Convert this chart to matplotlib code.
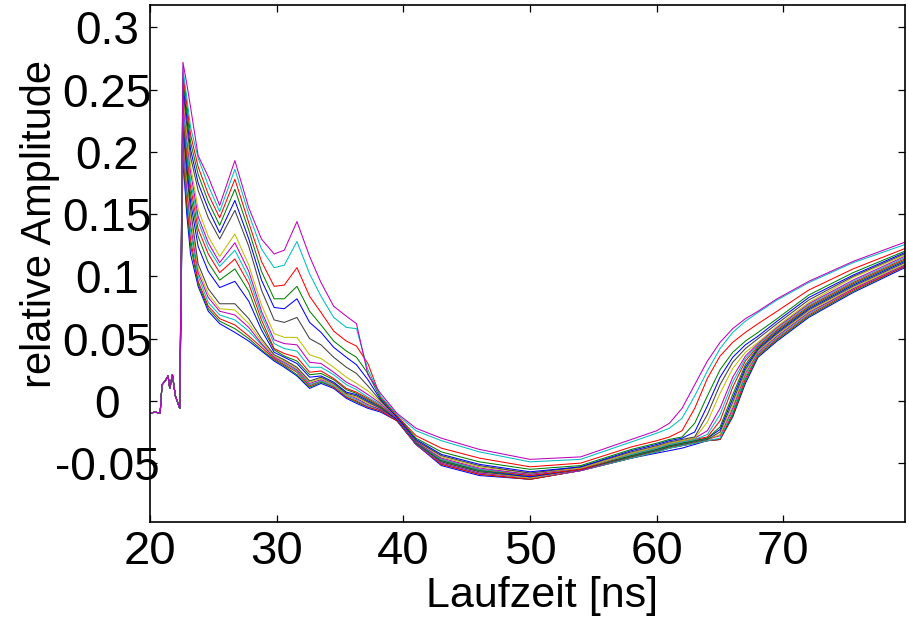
import matplotlib
matplotlib.use("Agg")
import matplotlib.pyplot as plt

# ---- data ----
# shared start segment (identical for all traces)
x_start = [20.0, 20.4, 20.8, 20.95, 21.2, 21.43, 21.56, 21.77, 22.0, 22.35]
y_start = [-0.010, -0.009, -0.010, 0.013, 0.016, 0.020, 0.010, 0.021, 0.004, -0.006]

x_early = [22.6, 22.9, 23.2, 23.8, 24.6, 25.5, 26.7, 27.8, 28.8, 29.8,
           30.6, 31.6, 32.6, 33.5, 34.5, 35.5, 36.3, 37.2, 38.2]
x_mid = [39.5, 41.0, 43.0, 46.0, 50.0, 54.0]
x_late = [58.0, 60.0, 61.0, 62.0, 63.0, 64.0, 65.0, 66.0, 67.0, 68.0,
          69.5, 72.0, 75.5, 80.0]

# rows: traces from top (last plotted) to bottom (first plotted)
early = [
    [0.272, 0.255, 0.236, 0.197, 0.180, 0.157, 0.193, 0.155, 0.130, 0.118, 0.121, 0.144, 0.116, 0.095, 0.076, 0.068, 0.062, 0.021, 0.006],
    [0.267, 0.244, 0.220, 0.195, 0.173, 0.152, 0.186, 0.150, 0.122, 0.107, 0.109, 0.128, 0.102, 0.084, 0.067, 0.059, 0.058, 0.025, 0.004],
    [0.263, 0.239, 0.214, 0.188, 0.166, 0.147, 0.178, 0.143, 0.112, 0.092, 0.093, 0.107, 0.084, 0.071, 0.056, 0.048, 0.044, 0.030, 0.003],
    [0.259, 0.233, 0.208, 0.182, 0.160, 0.141, 0.170, 0.137, 0.104, 0.082, 0.082, 0.092, 0.072, 0.061, 0.048, 0.040, 0.035, 0.022, 0.002],
    [0.255, 0.228, 0.202, 0.175, 0.154, 0.135, 0.161, 0.130, 0.097, 0.075, 0.074, 0.082, 0.063, 0.055, 0.043, 0.035, 0.029, 0.017, 0.001],
    [0.250, 0.222, 0.196, 0.169, 0.147, 0.130, 0.153, 0.124, 0.089, 0.065, 0.063, 0.067, 0.050, 0.045, 0.035, 0.027, 0.022, 0.012, 0.000],
    [0.246, 0.216, 0.189, 0.154, 0.132, 0.116, 0.134, 0.109, 0.077, 0.054, 0.051, 0.051, 0.037, 0.034, 0.027, 0.019, 0.014, 0.008, -0.001],
    [0.242, 0.211, 0.184, 0.148, 0.127, 0.111, 0.127, 0.104, 0.072, 0.049, 0.046, 0.045, 0.031, 0.030, 0.023, 0.015, 0.011, 0.005, -0.002],
    [0.237, 0.205, 0.177, 0.144, 0.123, 0.108, 0.121, 0.099, 0.069, 0.046, 0.042, 0.040, 0.027, 0.027, 0.021, 0.013, 0.009, 0.003, -0.003],
    [0.234, 0.200, 0.172, 0.138, 0.118, 0.103, 0.114, 0.094, 0.065, 0.042, 0.038, 0.035, 0.023, 0.024, 0.018, 0.010, 0.007, 0.002, -0.004],
    [0.229, 0.194, 0.166, 0.132, 0.111, 0.097, 0.106, 0.088, 0.061, 0.041, 0.036, 0.032, 0.021, 0.022, 0.017, 0.009, 0.006, 0.001, -0.005],
    [0.225, 0.189, 0.160, 0.124, 0.104, 0.091, 0.096, 0.080, 0.057, 0.039, 0.035, 0.030, 0.019, 0.020, 0.015, 0.007, 0.005, 0.000, -0.005],
    [0.220, 0.183, 0.154, 0.110, 0.090, 0.078, 0.078, 0.066, 0.050, 0.037, 0.033, 0.027, 0.016, 0.019, 0.014, 0.006, 0.004, -0.001, -0.006],
    [0.217, 0.178, 0.148, 0.106, 0.086, 0.074, 0.073, 0.062, 0.048, 0.036, 0.032, 0.026, 0.015, 0.018, 0.013, 0.005, 0.003, -0.002, -0.006],
    [0.212, 0.172, 0.142, 0.103, 0.083, 0.072, 0.069, 0.059, 0.046, 0.035, 0.031, 0.025, 0.014, 0.017, 0.013, 0.005, 0.002, -0.003, -0.007],
    [0.208, 0.167, 0.136, 0.100, 0.079, 0.069, 0.065, 0.056, 0.045, 0.035, 0.030, 0.024, 0.013, 0.016, 0.012, 0.004, 0.001, -0.004, -0.007],
    [0.204, 0.161, 0.130, 0.096, 0.076, 0.066, 0.061, 0.052, 0.043, 0.034, 0.029, 0.023, 0.012, 0.016, 0.011, 0.003, 0.000, -0.005, -0.008],
    [0.200, 0.156, 0.125, 0.094, 0.074, 0.064, 0.058, 0.050, 0.041, 0.033, 0.028, 0.021, 0.011, 0.015, 0.011, 0.003, -0.001, -0.005, -0.008],
    [0.195, 0.150, 0.118, 0.092, 0.072, 0.062, 0.055, 0.048, 0.040, 0.032, 0.027, 0.020, 0.010, 0.014, 0.010, 0.002, -0.002, -0.006, -0.009],
]

mid = [
    [-0.010, -0.022, -0.030, -0.039, -0.047, -0.045],
    [-0.011, -0.024, -0.032, -0.041, -0.049, -0.047],
    [-0.012, -0.028, -0.038, -0.046, -0.053, -0.050],
    [-0.012, -0.030, -0.041, -0.049, -0.055, -0.052],
    [-0.013, -0.031, -0.043, -0.051, -0.057, -0.053],
    [-0.013, -0.032, -0.044, -0.052, -0.058, -0.053],
    [-0.013, -0.032, -0.045, -0.053, -0.058, -0.054],
    [-0.014, -0.033, -0.046, -0.054, -0.059, -0.054],
    [-0.014, -0.033, -0.047, -0.055, -0.059, -0.054],
    [-0.014, -0.033, -0.047, -0.055, -0.060, -0.055],
    [-0.014, -0.034, -0.048, -0.056, -0.060, -0.055],
    [-0.015, -0.034, -0.048, -0.056, -0.061, -0.055],
    [-0.015, -0.034, -0.049, -0.057, -0.061, -0.055],
    [-0.015, -0.034, -0.049, -0.057, -0.062, -0.055],
    [-0.015, -0.035, -0.050, -0.058, -0.062, -0.056],
    [-0.015, -0.035, -0.050, -0.058, -0.062, -0.056],
    [-0.016, -0.035, -0.051, -0.059, -0.063, -0.056],
    [-0.016, -0.035, -0.051, -0.059, -0.063, -0.056],
    [-0.016, -0.035, -0.052, -0.060, -0.063, -0.056],
]

late = [
    [-0.031, -0.024, -0.018, -0.006, 0.013, 0.032, 0.047, 0.058, 0.066, 0.072, 0.082, 0.096, 0.112, 0.129],
    [-0.033, -0.026, -0.022, -0.014, 0.004, 0.024, 0.042, 0.055, 0.064, 0.071, 0.081, 0.095, 0.111, 0.127],
    [-0.037, -0.032, -0.029, -0.024, -0.006, 0.018, 0.036, 0.047, 0.055, 0.062, 0.072, 0.089, 0.106, 0.124],
    [-0.039, -0.034, -0.031, -0.029, -0.018, 0.004, 0.025, 0.039, 0.048, 0.055, 0.066, 0.085, 0.103, 0.122],
    [-0.040, -0.035, -0.032, -0.030, -0.025, -0.004, 0.019, 0.035, 0.045, 0.052, 0.064, 0.083, 0.101, 0.121],
    [-0.041, -0.036, -0.033, -0.031, -0.029, -0.011, 0.013, 0.031, 0.042, 0.050, 0.062, 0.081, 0.100, 0.120],
    [-0.042, -0.037, -0.034, -0.032, -0.030, -0.017, 0.006, 0.026, 0.039, 0.047, 0.060, 0.079, 0.099, 0.119],
    [-0.042, -0.037, -0.034, -0.032, -0.030, -0.024, -0.006, 0.019, 0.036, 0.046, 0.059, 0.078, 0.097, 0.118],
    [-0.043, -0.038, -0.035, -0.033, -0.031, -0.027, -0.011, 0.015, 0.034, 0.045, 0.058, 0.077, 0.096, 0.117],
    [-0.043, -0.038, -0.035, -0.033, -0.031, -0.029, -0.016, 0.011, 0.032, 0.044, 0.057, 0.076, 0.095, 0.116],
    [-0.044, -0.039, -0.036, -0.034, -0.032, -0.030, -0.021, 0.005, 0.029, 0.043, 0.056, 0.075, 0.094, 0.115],
    [-0.044, -0.039, -0.036, -0.034, -0.032, -0.030, -0.023, 0.002, 0.027, 0.042, 0.055, 0.074, 0.093, 0.114],
    [-0.045, -0.040, -0.037, -0.035, -0.033, -0.031, -0.025, -0.001, 0.025, 0.041, 0.054, 0.073, 0.092, 0.113],
    [-0.045, -0.040, -0.037, -0.035, -0.033, -0.031, -0.027, -0.004, 0.023, 0.040, 0.053, 0.072, 0.091, 0.112],
    [-0.045, -0.040, -0.037, -0.035, -0.033, -0.031, -0.028, -0.006, 0.022, 0.039, 0.052, 0.071, 0.090, 0.111],
    [-0.046, -0.041, -0.038, -0.036, -0.034, -0.032, -0.030, -0.008, 0.020, 0.038, 0.051, 0.070, 0.090, 0.111],
    [-0.046, -0.041, -0.038, -0.036, -0.034, -0.032, -0.031, -0.010, 0.018, 0.037, 0.050, 0.069, 0.089, 0.110],
    [-0.046, -0.041, -0.038, -0.036, -0.034, -0.032, -0.031, -0.012, 0.016, 0.036, 0.049, 0.068, 0.088, 0.110],
    [-0.046, -0.042, -0.040, -0.038, -0.035, -0.032, -0.031, -0.013, 0.014, 0.035, 0.048, 0.067, 0.087, 0.109],
]

x_ticks = [20, 30, 40, 50, 60, 70]
y_ticks = [-0.05, 0, 0.05, 0.1, 0.15, 0.2, 0.25, 0.3]
y_ticklabels = ["-0.05", "0", "0.05", "0.1", "0.15", "0.2", "0.25", "0.3"]

# MATLAB classic colour order: b, g, r, c, m, y, k
colors = [(0, 0, 1), (0, 0.5, 0), (1, 0, 0), (0, 0.75, 0.75),
          (0.75, 0, 0.75), (0.75, 0.75, 0), (0.25, 0.25, 0.25)]

# ---- figure ----
plt.rcParams['font.family'] = ['Liberation Sans', 'DejaVu Sans']
W, H = 909, 617
fig = plt.figure(figsize=(W / 100, H / 100), dpi=100)
ax = fig.add_axes([150 / W, 1 - 521.6 / H, 755 / W, 516.6 / H])

x_all = x_start + x_early + x_mid + x_late
n = len(early)
for i in range(n):
    r = n - 1 - i  # plot bottom trace first, top trace last
    y_all = y_start + early[r] + mid[r] + late[r]
    ax.plot(x_all, y_all, color=colors[i % 7], lw=0.75)

ax.set_xlim(20, 79.6)
ax.set_ylim(-0.097, 0.318)
ax.set_xticks(x_ticks)
ax.set_xticklabels([str(t) for t in x_ticks])
ax.set_yticks(y_ticks)
ax.set_yticklabels(y_ticklabels)

ax.tick_params(axis='both', which='both', direction='in', length=5, width=0.9,
               top=True, right=True)
ax.tick_params(axis='x', pad=6, labelsize=34)
ax.tick_params(axis='y', pad=31, labelsize=33)
for lab in ax.get_yticklabels():
    lab.set_horizontalalignment('center')
for s in ax.spines.values():
    s.set_linewidth(1.2)

ax.set_xlabel("Laufzeit [ns]", fontsize=31)
ax.xaxis.set_label_coords(0.519, -0.105)
fig.text(40 / W, 1 - 224 / H, "relative Amplitude", rotation=90,
         ha='center', va='center', fontsize=30)

fig.savefig("out.png", dpi=100)
